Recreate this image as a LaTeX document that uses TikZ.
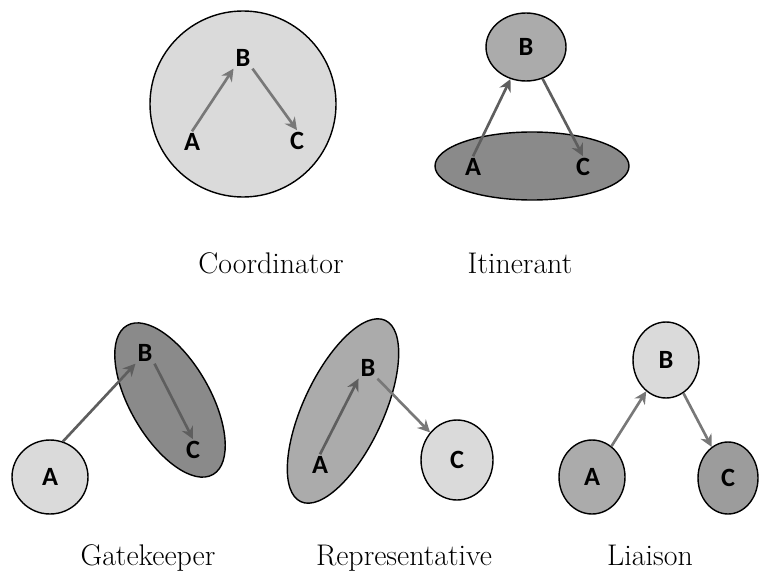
\documentclass[tikz,border=0pt]{standalone}
\usepackage{fontspec}
\setsansfont{Carlito}
\usetikzlibrary{arrows.meta,shapes.geometric}
\definecolor{lightg}{HTML}{DADADA}
\definecolor{midg}{HTML}{ABABAB}
\definecolor{darkg}{HTML}{8A8A8A}
\definecolor{liag}{HTML}{9C9C9C}
\definecolor{arrg}{HTML}{787878}
\definecolor{darrg}{HTML}{5E5E5E}

\begin{document}
\begin{tikzpicture}[x=0.02cm,y=-0.02cm,
    ltr/.style={font=\sffamily\bfseries\fontsize{15}{17}\selectfont,inner sep=1pt},
    blob/.style={ellipse,draw,line width=0.8pt,inner sep=0pt},
    arr/.style={draw=arrg,line width=1.5pt,-{Stealth[length=7pt,width=7pt]}},
    darr/.style={arr,draw=darrg},
    capt/.style={anchor=base,font=\fontsize{17}{19}\selectfont}]
  \useasboundingbox (0,0) rectangle (759,574);
  \begin{scope}
    \filldraw[fill=lightg,line width=0.8pt] (243,104) circle (93);
    \node[ltr] (coA) at (192,142) {A};
    \node[ltr] (coB) at (243,58) {B};
    \node[ltr] (coC) at (297,141) {C};
    \draw[arr] (coA.north) -- (coB.south west);
    \draw[arr] (coB.south east) -- (coC.north);
    \node[capt] (coT) at (271,273) {Coordinator};
  \end{scope}
  \begin{scope}
    \filldraw[fill=darkg,line width=0.8pt] (532,166) ellipse [x radius=97,y radius=34];
    \node[blob,fill=midg,minimum width=1.6cm,minimum height=1.36cm,ltr] (itB) at (526,47) {B};
    \node[ltr] (itA) at (473,167) {A};
    \node[ltr] (itC) at (583,167) {C};
    \draw[darr] (itA.north) -- (itB);
    \draw[darr] (itB) -- (itC.north);
    \node[capt] (itT) at (520,273) {Itinerant};
  \end{scope}
  \begin{scope}
    \filldraw[fill=darkg,line width=0.8pt,rotate around={-60:(170,400)}] (170,400) ellipse [x radius=86,y radius=40];
    \node[blob,fill=lightg,minimum width=1.52cm,minimum height=1.48cm,ltr] (gkA) at (50,477) {A};
    \node[ltr] (gkB) at (145,353) {B};
    \node[ltr] (gkC) at (193,450) {C};
    \draw[darr] (gkA.70) -- (gkB.south west);
    \draw[darr] (gkB.south east) -- (gkC.north);
    \node[capt] (gkT) at (148,565) {Gatekeeper};
  \end{scope}
  \begin{scope}
    \filldraw[fill=midg,line width=0.8pt,rotate around={65:(343,411)}] (343,411) ellipse [x radius=100,y radius=40];
    \node[ltr] (rpA) at (320,465) {A};
    \node[ltr] (rpB) at (368,368) {B};
    \node[blob,fill=lightg,minimum width=1.44cm,minimum height=1.6cm,ltr] (rpC) at (457,460) {C};
    \draw[darr] (rpA.north) -- (rpB.south west);
    \draw[arr] (rpB.south east) -- (rpC);
    \node[capt] (rpT) at (404,565) {Representative};
  \end{scope}
  \begin{scope}
    \node[blob,fill=lightg,minimum width=1.32cm,minimum height=1.52cm,ltr] (liB) at (666,360) {B};
    \node[blob,fill=midg,minimum width=1.32cm,minimum height=1.48cm,ltr] (liA) at (592,477) {A};
    \node[blob,fill=liag,minimum width=1.2cm,minimum height=1.44cm,ltr] (liC) at (728,478) {C};
    \draw[arr] (liA) -- (liB);
    \draw[arr] (liB) -- (liC);
    \node[capt] (liT) at (650,565) {Liaison};
  \end{scope}
\end{tikzpicture}
\end{document}
